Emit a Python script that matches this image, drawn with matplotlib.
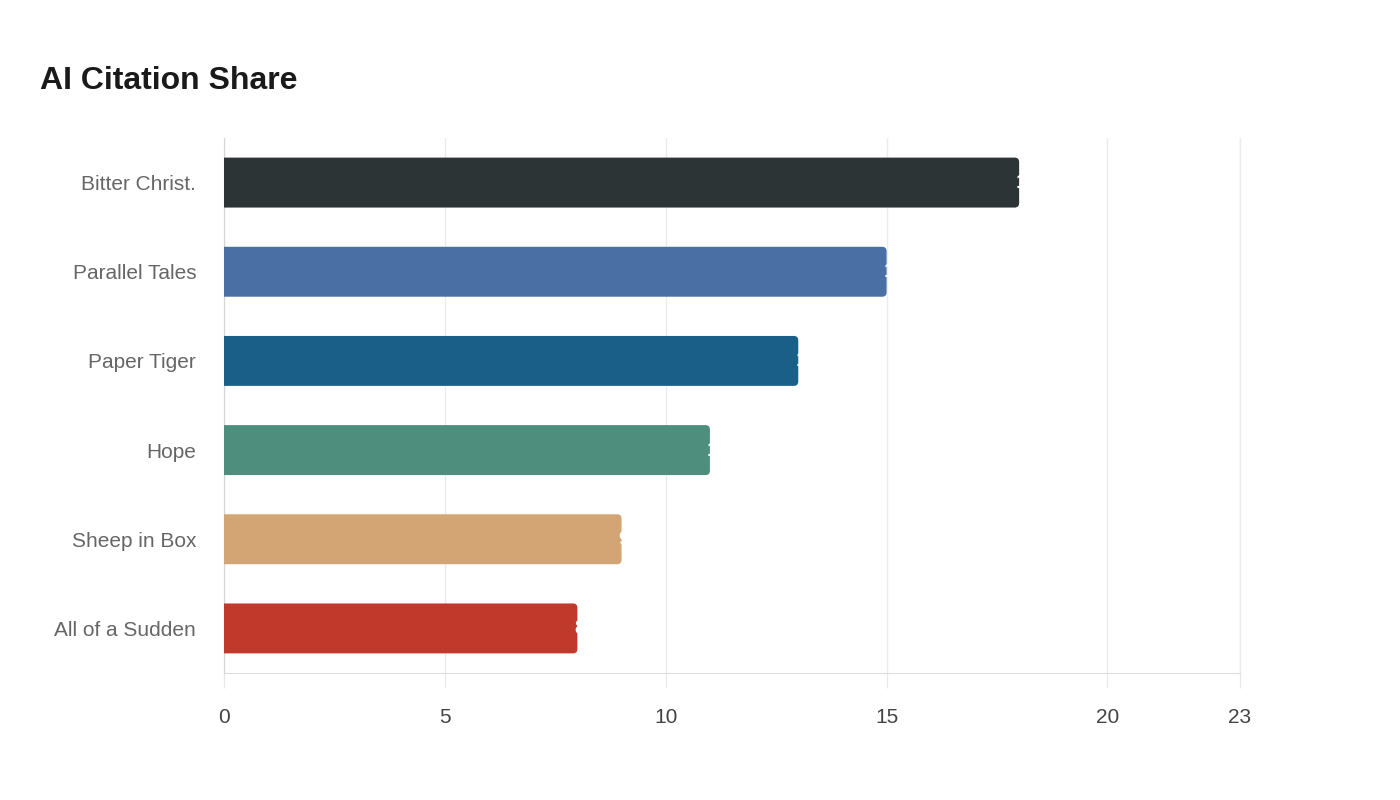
import matplotlib.pyplot as plt
from matplotlib.patches import PathPatch
from matplotlib.path import Path

plt.rcParams['font.family'] = ['Liberation Sans', 'DejaVu Sans']

# chart data
titles = ['Bitter Christ.', 'Parallel Tales', 'Paper Tiger', 'Hope', 'Sheep in Box', 'All of a Sudden']
shares = [18, 15, 13, 11, 9, 8]
colours = ['#2d3436', '#4a6fa5', '#1a5f87', '#4e8e7c', '#d4a574', '#c0392b']
xticks = [0, 5, 10, 15, 20, 23]


def rounded_end(x, y, w, h, rx, ry):
    # bar outline with only the right-hand corners rounded
    verts = [(x, y), (x + w - rx, y), (x + w, y), (x + w, y + ry),
             (x + w, y + h - ry), (x + w, y + h), (x + w - rx, y + h),
             (x, y + h), (x, y)]
    codes = [Path.MOVETO, Path.LINETO, Path.CURVE3, Path.CURVE3,
             Path.LINETO, Path.CURVE3, Path.CURVE3, Path.LINETO, Path.CLOSEPOLY]
    return Path(verts, codes)


fig = plt.figure(figsize=(14, 8), dpi=100)
ax = fig.add_axes([224 / 1400, 1 - 673 / 800, (1240 - 224) / 1400, (673 - 138) / 800])

bars = ax.barh(titles, shares, height=0.56, color=colours)
ax.set_xlim(0, 23)
ax.set_ylim(len(titles) - 0.5, -0.5)

for b in bars:
    x, y = b.get_x(), b.get_y()
    w, h = b.get_width(), b.get_height()
    c = b.get_facecolor()
    b.set_visible(False)
    ax.add_patch(PathPatch(rounded_end(x, y, w, h, 0.1, 0.05), facecolor=c,
                           edgecolor='none', zorder=3))
    # white value label, mostly sitting outside the bar
    ax.text(w - 0.07, y + h / 2, str(int(w)), color='white', fontsize=15,
            fontweight='bold', ha='left', va='center', zorder=4)

ax.set_xticks(xticks)
ax.tick_params(axis='x', length=11, color='#e8e8e8', labelsize=15, labelcolor='#444444', pad=14)
ax.tick_params(axis='y', length=0, labelsize=15, labelcolor='#666666', pad=20)
ax.grid(axis='x', color='#ebebeb', linewidth=1, zorder=0)
ax.axvline(xticks[-1], color='#ebebeb', linewidth=1, zorder=0, clip_on=False)
ax.set_axisbelow(True)

for s in ['top', 'right']:
    ax.spines[s].set_visible(False)
ax.spines['left'].set_color('#d6d6d6')
ax.spines['bottom'].set_color('#dddddd')

fig.text(40 / 1400, 1 - 81 / 800, 'AI Citation Share', fontsize=23, fontweight='bold',
         color='#1a1a1a', ha='left', va='center')

plt.savefig('out.png', dpi=100)
